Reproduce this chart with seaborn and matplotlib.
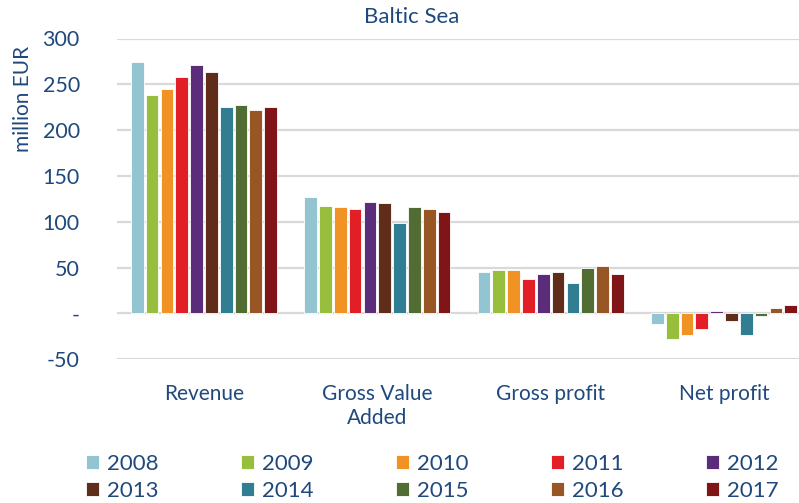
import matplotlib
matplotlib.use("Agg")
import matplotlib.pyplot as plt
import pandas as pd
import seaborn as sns

# Values (million EUR)
years = ["2008", "2009", "2010", "2011", "2012", "2013", "2014", "2015", "2016", "2017"]
categories = ["Revenue", "Gross Value\nAdded", "Gross profit", "Net profit"]
revenue = [274, 238, 245, 258, 271, 263, 225, 227, 222, 225]
gross_value_added = [127, 117.5, 116, 114, 122, 121, 99, 116, 114, 111]
gross_profit = [45, 47, 47, 38, 43, 45, 33, 50, 52, 43]
net_profit = [-11.5, -28, -23.5, -17, 2.5, -8.5, -23.5, -2.5, 5.5, 9]
colors = ["#93C4D2", "#97BF3D", "#F09324", "#E21F26", "#5B2C7A",
          "#5F2D1A", "#317D91", "#526D33", "#975624", "#801518"]

text_color = "#1F497D"


def main():
    series = [revenue, gross_value_added, gross_profit, net_profit]
    rows = []
    for cat, vals in zip(categories, series):
        for yr, v in zip(years, vals):
            rows.append({"category": cat, "year": yr, "value": v})
    df = pd.DataFrame(rows)

    sns.set_theme(style="white")
    plt.rcParams["font.family"] = ["Lato", "DejaVu Sans"]

    fig = plt.figure(figsize=(7.99, 5.03), dpi=100)
    W, H = 799, 503
    left, right, top, bottom = 117.3, 810.7, 38.5, 359.3
    ax = fig.add_axes([left / W, 1 - bottom / H, (right - left) / W, (bottom - top) / H])

    sns.barplot(data=df, x="category", y="value", hue="year", palette=colors,
                saturation=1, width=0.855, gap=0.14, edgecolor="white",
                linewidth=0.6, ax=ax, legend=True)

    ax.set_ylim(-50, 300)
    ax.set_xlim(-0.5, 3.5)
    ticks = [-50, 0, 50, 100, 150, 200, 250, 300]
    ax.set_yticks(ticks)
    ax.set_yticklabels(["-50", "-", "50", "100", "150", "200", "250", "300"])
    ax.yaxis.grid(True, color="#D9D9D9", linewidth=1.6)
    ax.set_axisbelow(True)
    for s in ax.spines.values():
        s.set_visible(False)
    ax.tick_params(axis="y", length=0, pad=27, labelsize=15.5, labelcolor=text_color)
    ax.tick_params(axis="x", length=0, pad=18, labelsize=15, labelcolor=text_color)
    ax.set_xlabel("")
    ax.set_ylabel("million EUR", color=text_color, fontsize=15)
    ax.yaxis.set_label_coords(-(left - 33) / (right - left), 1 - 60 / (bottom - top))

    fig.text(412 / W, 1 - 17 / H, "Baltic Sea", ha="center", va="center",
             color=text_color, fontsize=16)

    handles, labels = ax.get_legend_handles_labels()
    ax.get_legend().remove()
    # matplotlib fills legend columns first: reorder so rows read 2008..2012, 2013..2017
    order = []
    for c in range(5):
        order += [c, c + 5]
    leg = fig.legend([handles[i] for i in order], [labels[i] for i in order],
                     ncol=5, loc="upper left", bbox_to_anchor=(86 / W, 1 - 454 / H),
                     frameon=False, borderpad=0, borderaxespad=0,
                     fontsize=16, handlelength=0.6, handleheight=0.6,
                     handletextpad=0.35, columnspacing=3.7, labelspacing=0.32)
    for t in leg.get_texts():
        t.set_color(text_color)

    fig.savefig("out.png", dpi=100)


if __name__ == "__main__":
    main()
